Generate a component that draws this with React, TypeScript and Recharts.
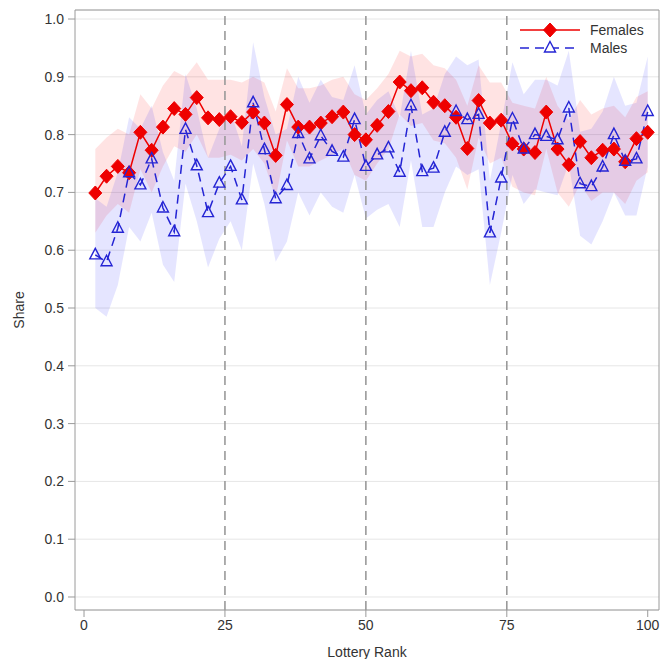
import React from 'react';
import {
  ComposedChart,
  Line,
  Area,
  XAxis,
  YAxis,
  CartesianGrid,
  ReferenceLine,
  ReferenceArea,
  Legend,
} from 'recharts';

const ranks = [
  2, 4, 6, 8, 10, 12, 14, 16, 18, 20, 22, 24, 26, 28, 30, 32, 34, 36, 38, 40, 42, 44, 46, 48, 50,
  52, 54, 56, 58, 60, 62, 64, 66, 68, 70, 72, 74, 76, 78, 80, 82, 84, 86, 88, 90, 92, 94, 96, 98, 100,
];

const femaleShare = [
  0.699, 0.728, 0.745, 0.734, 0.804, 0.773, 0.813, 0.845, 0.835, 0.864, 0.829, 0.826, 0.831, 0.821, 0.839,
  0.82, 0.764, 0.852, 0.813, 0.813, 0.82, 0.831, 0.839, 0.8, 0.791, 0.816, 0.84, 0.891, 0.876, 0.881,
  0.856, 0.85, 0.83, 0.776, 0.859, 0.82, 0.825, 0.784, 0.775, 0.769, 0.839, 0.775, 0.748, 0.788, 0.76,
  0.773, 0.775, 0.753, 0.793, 0.804,
];
const femaleLower = [
  0.63, 0.66, 0.68, 0.665, 0.74, 0.7, 0.745, 0.78, 0.77, 0.8, 0.76, 0.76, 0.765, 0.755, 0.775,
  0.75, 0.69, 0.79, 0.745, 0.745, 0.755, 0.765, 0.775, 0.73, 0.72, 0.75, 0.775, 0.835, 0.815, 0.82,
  0.79, 0.785, 0.76, 0.705, 0.795, 0.75, 0.76, 0.71, 0.7, 0.695, 0.775, 0.7, 0.675, 0.715, 0.685,
  0.7, 0.7, 0.68, 0.72, 0.735,
];
const femaleUpper = [
  0.775, 0.795, 0.81, 0.8, 0.87, 0.845, 0.885, 0.91, 0.9, 0.925, 0.895, 0.895, 0.895, 0.89, 0.9,
  0.89, 0.84, 0.915, 0.88, 0.88, 0.885, 0.895, 0.9, 0.87, 0.86, 0.88, 0.905, 0.945, 0.935, 0.94,
  0.92, 0.915, 0.895, 0.85, 0.92, 0.89, 0.89, 0.855, 0.85, 0.845, 0.9, 0.85, 0.825, 0.86, 0.835,
  0.845, 0.85, 0.83, 0.865, 0.875,
];

const maleShare = [
  0.592, 0.58, 0.638, 0.734, 0.713, 0.758, 0.673, 0.632, 0.809, 0.746, 0.665, 0.716, 0.745, 0.687, 0.855,
  0.774, 0.689, 0.712, 0.802, 0.758, 0.798, 0.771, 0.761, 0.826, 0.745, 0.765, 0.777, 0.735, 0.85, 0.736,
  0.742, 0.804, 0.84, 0.826, 0.835, 0.63, 0.725, 0.827, 0.775, 0.8, 0.797, 0.791, 0.846, 0.715, 0.71,
  0.744, 0.8, 0.754, 0.758, 0.84,
];
const maleLower = [
  0.5, 0.485, 0.54, 0.64, 0.615, 0.665, 0.575, 0.545, 0.715, 0.65, 0.57, 0.62, 0.65, 0.6, 0.75,
  0.68, 0.58, 0.615, 0.7, 0.66, 0.7, 0.675, 0.665, 0.73, 0.655, 0.67, 0.68, 0.64, 0.755, 0.64,
  0.64, 0.7, 0.745, 0.73, 0.74, 0.54, 0.63, 0.73, 0.68, 0.705, 0.7, 0.695, 0.75, 0.625, 0.61,
  0.65, 0.7, 0.66, 0.66, 0.745,
];
const maleUpper = [
  0.69, 0.675, 0.735, 0.83, 0.81, 0.85, 0.77, 0.72, 0.905, 0.845, 0.76, 0.81, 0.84, 0.78, 0.96,
  0.865, 0.8, 0.81, 0.9, 0.855, 0.895, 0.865, 0.86, 0.92, 0.835, 0.86, 0.875, 0.83, 0.945, 0.835,
  0.845, 0.905, 0.935, 0.92, 0.93, 0.72, 0.82, 0.925, 0.87, 0.895, 0.895, 0.885, 0.945, 0.805, 0.81,
  0.84, 0.9, 0.85, 0.855, 0.935,
];

const xTicks = [0, 25, 50, 75, 100];
const yTicks = [0, 0.1, 0.2, 0.3, 0.4, 0.5, 0.6, 0.7, 0.8, 0.9, 1.0];
const dividers = [25, 50, 75];
const xDomain: [number, number] = [-1.6, 102];
const yDomain: [number, number] = [-0.0225, 1.0156];

const RED = '#ee0000';
const BLUE = '#2424d4';
const GREY = '#9a9a9a';
const FONT = '"Liberation Sans", Arial, sans-serif';

const data = ranks.map((r, i) => ({
  rank: r,
  female: femaleShare[i],
  femaleBand: [femaleLower[i], femaleUpper[i]],
  male: maleShare[i],
  maleBand: [maleLower[i], maleUpper[i]],
}));

const diamondPath = (cx: number, cy: number) =>
  `M${cx},${cy - 7}L${cx + 6.5},${cy}L${cx},${cy + 7}L${cx - 6.5},${cy}Z`;
const trianglePath = (cx: number, cy: number) =>
  `M${cx},${cy - 6.5}L${cx + 5.5},${cy + 4}L${cx - 5.5},${cy + 4}Z`;

const DiamondDot = (props: any) => {
  const { cx, cy, index } = props;
  if (cx == null || cy == null) return <g key={`fd-${index}`} />;
  return <path key={`fd-${index}`} d={diamondPath(cx, cy)} fill={RED} stroke={RED} strokeWidth={1} />;
};

const TriangleDot = (props: any) => {
  const { cx, cy, index } = props;
  if (cx == null || cy == null) return <g key={`md-${index}`} />;
  return <path key={`md-${index}`} d={trianglePath(cx, cy)} fill="none" stroke={BLUE} strokeWidth={1.4} />;
};

const LegendContent = (props: any) => {
  const items = (props.payload || []).filter((p: any) => p.type !== 'none');
  return (
    <svg width={140} height={44} style={{ display: 'block' }}>
      {items.map((item: any, i: number) => {
        const y = 18 + i * 18;
        const dashed = item.value === 'Males';
        return (
          <g key={item.value}>
            <line
              x1={5}
              x2={65}
              y1={y}
              y2={y}
              stroke={dashed ? BLUE : RED}
              strokeWidth={1.5}
              strokeDasharray={dashed ? '9 6' : undefined}
            />
            {dashed ? (
              <path d={trianglePath(35, y)} fill="#fff" stroke={BLUE} strokeWidth={1.4} />
            ) : (
              <path d={diamondPath(35, y)} fill={RED} stroke={RED} />
            )}
            <text x={75} y={y + 5} fontSize={14} fontFamily={FONT} fill="#333">
              {item.value}
            </text>
          </g>
        );
      })}
    </svg>
  );
};

const YLabel = (props: any) => {
  const vb = props.viewBox || { x: 0, y: 10, width: 75, height: 600 };
  const x = vb.x + 19;
  const y = vb.y + vb.height / 2;
  return (
    <text
      x={x}
      y={y}
      transform={`rotate(-90 ${x} ${y})`}
      textAnchor="middle"
      dominantBaseline="central"
      fontSize={14}
      fontFamily={FONT}
      fill="#333"
    >
      Share
    </text>
  );
};

export default function App() {
  return (
    <div style={{ position: 'absolute', left: 0, top: 0, width: 662, height: 659, background: '#fff' }}>
      <ComposedChart
        width={662}
        height={659}
        data={data}
        margin={{ top: 10, right: 3, bottom: 0, left: 0 }}
      >
        <CartesianGrid vertical={false} stroke="#e6e6e6" strokeWidth={1} />
        <XAxis
          type="number"
          dataKey="rank"
          domain={xDomain}
          allowDataOverflow
          ticks={xTicks}
          height={49}
          tickSize={7}
          tickMargin={3}
          axisLine={false}
          tickLine={{ stroke: GREY }}
          tick={{ fontSize: 14, fontFamily: FONT, fill: '#333' }}
          label={{
            value: 'Lottery Rank',
            position: 'insideBottom',
            offset: 2,
            fontSize: 14,
            fontFamily: FONT,
            fill: '#333',
          }}
        />
        <YAxis
          type="number"
          domain={yDomain}
          allowDataOverflow
          ticks={yTicks}
          width={75}
          tickSize={7}
          tickMargin={4}
          axisLine={false}
          tickLine={{ stroke: GREY }}
          tickFormatter={(v: number) => v.toFixed(1)}
          tick={{ fontSize: 14, fontFamily: FONT, fill: '#333' }}
          label={<YLabel />}
        />
        <Area
          type="linear"
          dataKey="femaleBand"
          stroke="none"
          fill="#ff0000"
          fillOpacity={0.11}
          legendType="none"
          isAnimationActive={false}
          activeDot={false}
        />
        <Area
          type="linear"
          dataKey="maleBand"
          stroke="none"
          fill="#0000ff"
          fillOpacity={0.1}
          legendType="none"
          isAnimationActive={false}
          activeDot={false}
        />
        {dividers.map((d) => (
          <ReferenceLine
            key={d}
            x={d}
            stroke={GREY}
            strokeWidth={1.6}
            strokeDasharray="9 6"
          />
        ))}
        <Line
          type="linear"
          dataKey="female"
          name="Females"
          stroke={RED}
          strokeWidth={1.5}
          dot={DiamondDot}
          activeDot={false}
          isAnimationActive={false}
        />
        <Line
          type="linear"
          dataKey="male"
          name="Males"
          stroke={BLUE}
          strokeWidth={1.5}
          strokeDasharray="9 6"
          dot={TriangleDot}
          activeDot={false}
          isAnimationActive={false}
        />
        <ReferenceArea
          x1={xDomain[0]}
          x2={xDomain[1]}
          y1={yDomain[0]}
          y2={yDomain[1]}
          fill="none"
          stroke={GREY}
          strokeWidth={1}
          ifOverflow="visible"
        />
        <Legend
          layout="horizontal"
          align="center"
          verticalAlign="middle"
          content={<LegendContent />}
          wrapperStyle={{ position: 'absolute', left: 515, top: 12, width: 140, height: 44 }}
        />
      </ComposedChart>
    </div>
  );
}
